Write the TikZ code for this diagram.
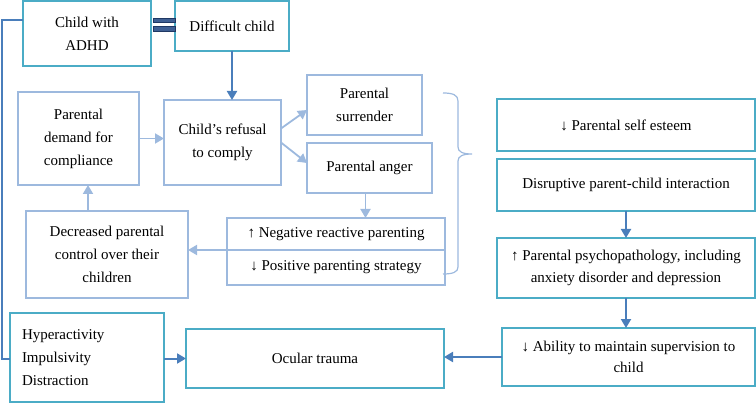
\documentclass[tikz,border=0pt]{standalone}
\usepackage{fontspec}
\setmainfont{Liberation Serif}
\usetikzlibrary{arrows.meta, positioning}

\definecolor{tealline}{HTML}{4BACC6}
\definecolor{paleline}{HTML}{9DB9DE}
\definecolor{arrowblue}{HTML}{4A7EBB}
\definecolor{navyline}{HTML}{1F3864}
\definecolor{navyfill}{HTML}{3F5F93}

\tikzset{
  tealbox/.style={draw=tealline, line width=1.8pt, align=center, outer sep=0pt},
  palebox/.style={draw=paleline, line width=1.8pt, align=center, outer sep=0pt},
  rightcol/.style={tealbox, minimum width=258pt, font=\fontsize{15}{21.7}\selectfont},
  link/.style={->, draw=arrowblue, line width=2pt},
  palelink/.style={->, draw=paleline, line width=1.8pt},
}

\begin{document}
\begin{tikzpicture}[x=1pt, y=-1pt, >={Triangle[length=9pt,width=10pt]},
  font=\fontsize{15}{23}\selectfont]

\useasboundingbox (0,0) rectangle (756,409);

\node[tealbox, minimum width=128pt, minimum height=65pt] (adhd) at (87,33.5) {Child with\\ADHD};
\node[tealbox, minimum width=114pt, minimum height=50pt] (difficult) at (232,26) {Difficult child};

\node[palebox, minimum width=121pt, minimum height=93pt] (demand) at (78.5,138.5) {Parental\\demand for\\compliance};
\node[palebox, minimum width=117pt, minimum height=85pt] (refusal) at (222.5,142.5) {Child’s refusal\\to comply};
\node[palebox, minimum width=115pt, minimum height=60pt] (surrender) at (364.5,105) {Parental\\surrender};
\node[palebox, minimum width=125pt, minimum height=50pt] (anger) at (369.5,168) {Parental anger};

\node[palebox, minimum width=218pt, minimum height=32pt] (negative) at (336,234) {↑ Negative reactive parenting};
\node[palebox, minimum width=218pt, minimum height=35pt, below = 0pt of negative] (positive) {↓ Positive parenting strategy};
\node[palebox, minimum width=162pt, minimum height=87pt] (decreased) at (107,254.5) {Decreased parental\\control over their\\children};

\node[tealbox, text width=130pt, inner xsep=12pt, minimum height=89pt, align=left] (hyper) at (87,357.5) {Hyperactivity\\Impulsivity\\Distraction};
\node[tealbox, minimum width=258pt, minimum height=59pt] (ocular) at (315,358.5) {Ocular trauma};

\node[rightcol, minimum height=52pt] (esteem) at (626,125) {↓ Parental self esteem};
\node[rightcol, minimum height=52pt] (disruptive) at (626,185) {Disruptive parent-child interaction};
\node[rightcol, minimum height=60pt] (psycho) at (626,268) {↑ Parental psychopathology, including\\anxiety disorder and depression};
\node[rightcol, minimum width=253pt, minimum height=58pt] (ability) at (628.5,357) {↓ Ability to maintain supervision to\\child};

% equals sign between the two top boxes
\draw[navyline, fill=navyfill, line width=1pt] ([xshift=2pt]adhd.east |- 0,18.5) rectangle (difficult.west |- 0,23);
\draw[navyline, fill=navyfill, line width=1pt] ([xshift=2pt]adhd.east |- 0,26.8) rectangle (difficult.west |- 0,31.3);

% cycle
\draw[link] (difficult.south) -- (difficult.south |- refusal.north);
\draw[palelink] (demand.east) -- (refusal.west |- demand.east);
\draw[palelink] ([yshift=14pt]refusal.east) -- ([yshift=-5pt]surrender.west);
\draw[palelink] (refusal.east) -- ([yshift=5pt]anger.west);
\draw[palelink] ([xshift=-4pt]anger.south) -- ([xshift=-4pt]anger.south |- negative.north);
\draw[palelink] (negative.south west) -- (decreased.east |- negative.south west);
\draw[palelink] ([xshift=-19pt]decreased.north) -- ([xshift=-19pt]decreased.north |- demand.south);

% brace round the parental reactions
\coordinate (btop) at (443,93);
\coordinate (btip) at (472,154);
\coordinate (bbot) at (443,274);
\draw[paleline, line width=1.2pt] (btop) .. controls (453,93) and (458,95) .. (458,101)
  -- (458,147) .. controls (458,152) and (463,154) .. (btip)
  .. controls (463,154) and (458,156) .. (458,161)
  -- (458,267) .. controls (458,272) and (453,274) .. (bbot);

% right column
\draw[link] (disruptive.south) -- (psycho.north);
\draw[link] (psycho.south) -- (psycho.south |- ability.north);
\draw[link] (ability.west) -- (ocular.east |- ability.west);

% bottom
\coordinate (side) at (2,359);
\draw[arrowblue, line width=2pt] ([yshift=13pt]adhd.west) -| (side) -- (hyper.west |- side);
\draw[link] (hyper.east |- ocular.west) -- (ocular.west);

\end{tikzpicture}
\end{document}
